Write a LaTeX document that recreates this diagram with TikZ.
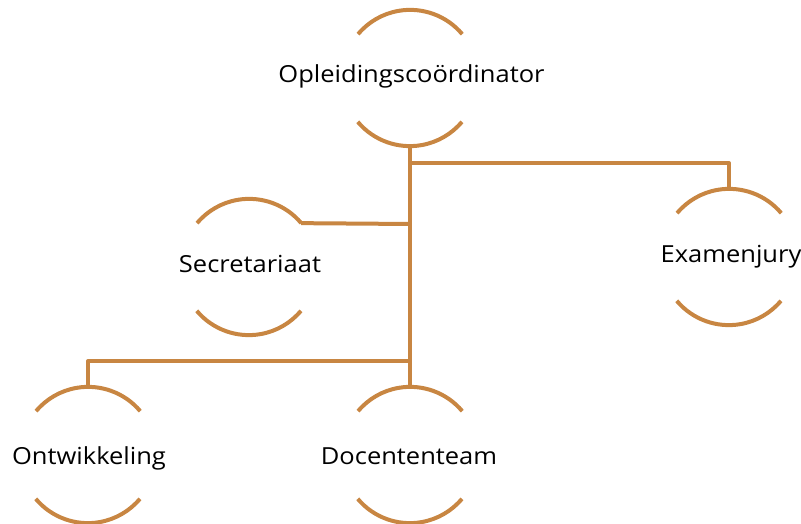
\documentclass[tikz,border=0pt]{standalone}
\usepackage{fontspec}
\setmainfont{Open Sans}[FakeStretch=1.085]
\definecolor{brn}{RGB}{200,134,66}
\tikzset{
  unit/.style={circle,minimum size=136pt,inner sep=0pt},
  lbl/.style={anchor=base,inner sep=0pt,font=\fontsize{23.5}{28}\selectfont,text=black},
  arcline/.style={draw=brn,line width=4pt},
  link/.style={draw=brn,line width=4pt,line join=round}
}
\begin{document}
\begin{tikzpicture}[x=1pt,y=1pt]
\useasboundingbox (0,0) rectangle (801,524);
\node[unit] (opl) at (410,446) {};
\node[unit] (sec) at (249,257) {};
\node[unit] (exa) at (729,267) {};
\node[unit] (ont) at (88,69) {};
\node[unit] (doc) at (410,69) {};
\node[lbl] (oplt) at (411.5,441) {Opleidingscoördinator};
\node[lbl] (sect) at (250,251) {Secretariaat};
\node[lbl] (exat) at (731,261) {Examenjury};
\node[lbl] (ontt) at (89,59) {Ontwikkeling};
\node[lbl] (doct) at (409,59) {Docententeam};
\foreach \n in {opl,sec,exa,ont,doc}{
  \draw[arcline] (\n.40) arc[start angle=40,end angle=140,radius=68pt];
  \draw[arcline] (\n.220) arc[start angle=220,end angle=320,radius=68pt];
}
\coordinate (jx) at (410,361);
\coordinate (js) at (410,300);
\coordinate (jo) at (410,163);
\draw[link] (opl.south) -- (doc.north);
\draw[link] (jx) -| (exa.north);
\draw[link] (js) -- (sec.40);
\draw[link] (jo) -| (ont.north);
\end{tikzpicture}
\end{document}
